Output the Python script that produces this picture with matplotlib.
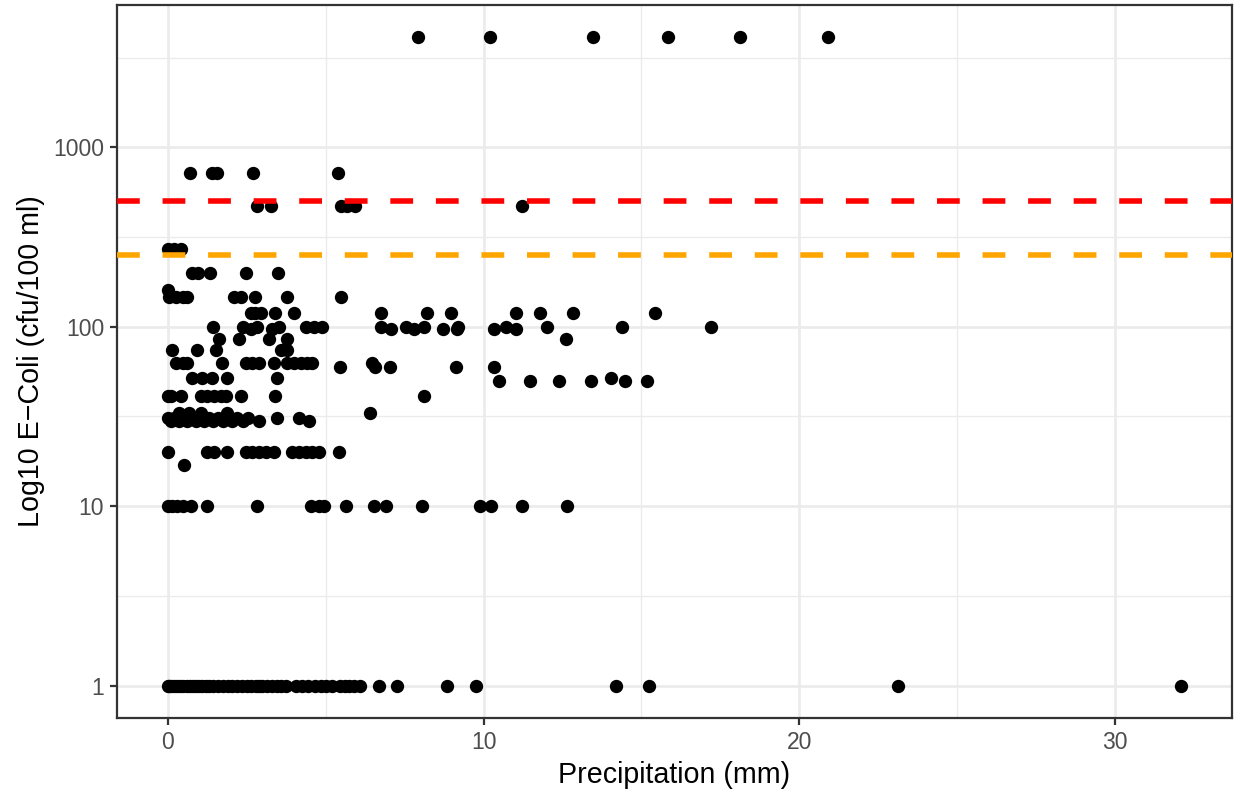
import numpy as np
import matplotlib
matplotlib.use("Agg")
import matplotlib.pyplot as plt
from matplotlib.ticker import FixedLocator, NullFormatter

plt.rcParams['font.family'] = ['Liberation Sans', 'DejaVu Sans']

# E. coli levels (cfu/100 ml) and the precipitation (mm) of each sample at that level
rows = {
    4100: [7.94, 10.19, 13.45, 15.85, 18.13, 20.89],
    720: [0.70, 1.40, 1.55, 2.69, 5.38],
    470: [2.82, 3.28, 5.50, 5.69, 5.92, 11.23],
    270: [0.0, 0.2, 0.41],
    200: [0.76, 0.97, 1.34, 2.47, 3.48],
    160: [0.0],
    146: [0.03, 0.25, 0.47, 0.6, 2.09, 2.31, 2.75, 3.79, 5.50],
    120: [2.63, 2.78, 2.94, 3.39, 4.0, 6.74, 8.2, 8.97, 11.02, 11.78, 12.84, 15.44],
    100: [1.45, 2.4, 2.84, 3.52, 4.37, 4.62, 4.9, 6.74, 7.53, 8.1, 9.2, 10.7,
          12.0, 14.37, 17.2],
    97: [2.63, 3.31, 7.06, 7.79, 8.72, 9.15, 10.32, 11.04],
    86: [1.62, 2.26, 3.21, 3.79, 12.6],
    74: [0.15, 0.94, 1.52, 3.58, 3.79],
    63: [0.25, 0.47, 0.62, 1.73, 2.47, 2.68, 2.89, 3.36, 3.79, 4.0, 4.21, 4.42,
         4.57, 6.48],
    60: [5.47, 6.55, 7.03, 9.14, 10.33],
    52: [0.78, 1.09, 1.41, 1.87, 3.45, 14.04],
    50: [10.49, 11.46, 12.38, 13.41, 14.49, 15.16],
    41: [0.0, 0.1, 0.41, 1.04, 1.26, 1.47, 1.68, 1.84, 2.31, 3.39, 8.12],
    33: [0.35, 0.66, 1.04, 1.87, 6.42],
    31: [0.0, 0.2, 0.5, 0.75, 1.0, 1.3, 1.6, 1.9, 2.2, 2.55, 3.47, 4.16],
    30: [0.1, 0.35, 0.6, 0.9, 1.15, 1.45, 1.75, 2.05, 2.4, 2.89, 4.47],
    20: [0.0, 1.26, 1.47, 1.89, 2.47, 2.68, 2.89, 3.10, 3.36, 3.95, 4.16, 4.37,
         4.58, 4.79, 5.42],
    17: [0.52],
    10: [0.0, 0.15, 0.3, 0.47, 0.73, 1.23, 2.84, 4.53, 4.79, 4.95, 5.63, 6.53,
         6.9, 8.06, 9.9, 10.22, 11.22, 12.63],
    1: [0.0, 0.05, 0.1, 0.2, 0.3, 0.4, 0.5, 0.6, 0.7, 0.8, 0.9, 1.0, 1.1, 1.2,
        1.3, 1.45, 1.6, 1.75, 1.9, 2.05, 2.2, 2.35, 2.5, 2.65, 2.8, 2.9, 3.0,
        3.15, 3.3, 3.45, 3.6, 3.75, 4.05, 4.25, 4.45, 4.65, 4.85, 5.0, 5.2,
        5.45, 5.6, 5.75, 5.9, 6.1, 6.68, 7.25, 8.83, 9.75, 14.18, 15.25,
        23.13, 32.09],
}

thresholds = [500, 250]
threshold_colors = ["#FF0000", "#FFA500"]

precip = []
ecoli = []
for level, xs in rows.items():
    precip += xs
    ecoli += [level] * len(xs)
precip = np.array(precip)
ecoli = np.array(ecoli)

fig = plt.figure(figsize=(12.36, 7.95), dpi=100)
ax = fig.add_axes([117 / 1236, 1 - 718 / 795, (1232 - 117) / 1236, (718 - 5) / 795])

ax.set_yscale("log")
ax.scatter(precip, ecoli, s=92, color="black", linewidths=0, zorder=3)

for t, c in zip(thresholds, threshold_colors):
    ax.axhline(t, color=c, linewidth=4, linestyle=(0, (4.1, 4.1)), zorder=4)

# ggplot-like expansion (5 %)
xr = precip.max() - precip.min()
ax.set_xlim(precip.min() - 0.05 * xr, precip.max() + 0.05 * xr)
lmin, lmax = np.log10(ecoli.min()), np.log10(ecoli.max())
lr = lmax - lmin
ax.set_ylim(10 ** (lmin - 0.05 * lr), 10 ** (lmax + 0.05 * lr))

ax.xaxis.set_major_locator(FixedLocator([0, 10, 20, 30]))
ax.xaxis.set_minor_locator(FixedLocator([5, 15, 25]))
ax.yaxis.set_major_locator(FixedLocator([1, 10, 100, 1000]))
ax.yaxis.set_minor_locator(FixedLocator([10 ** 0.5, 10 ** 1.5, 10 ** 2.5, 10 ** 3.5]))
ax.yaxis.set_minor_formatter(NullFormatter())
ax.set_yticklabels(["1", "10", "100", "1000"])

ax.grid(True, which="major", color="#EBEBEB", linewidth=1.9, zorder=0)
ax.grid(True, which="minor", color="#EBEBEB", linewidth=0.95, zorder=0)
ax.set_axisbelow(True)

for s in ax.spines.values():
    s.set_color("#333333")
    s.set_linewidth(1.6)

ax.tick_params(which="major", length=5.2, width=1.6, color="#333333",
               labelsize=16.5, labelcolor="#4D4D4D", pad=4)
ax.tick_params(which="minor", length=0)

ax.set_xlabel("Precipitation (mm)", fontsize=20.6, color="black", labelpad=5)
ax.set_ylabel("Log10 E\u2212Coli (cfu/100 ml)", fontsize=20.6, color="black", labelpad=6)

fig.savefig("out.png", dpi=100)
